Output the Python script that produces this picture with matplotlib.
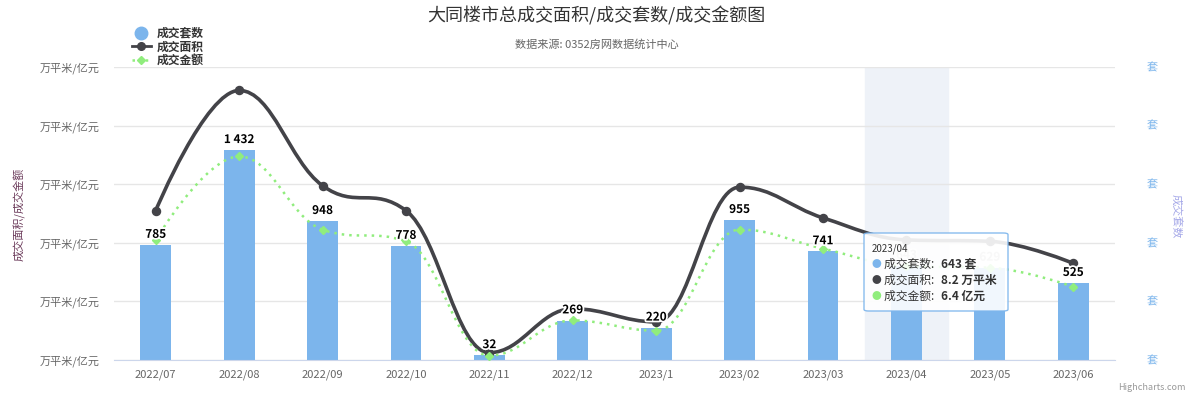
import numpy as np
import matplotlib.pyplot as plt
from matplotlib.path import Path
from matplotlib.patches import PathPatch, FancyBboxPatch
from matplotlib.lines import Line2D
import matplotlib.patheffects as pe

plt.rcParams['font.family'] = ['Noto Sans CJK SC', 'DejaVu Sans']

# 数据
months = ['2022/07', '2022/08', '2022/09', '2022/10', '2022/11', '2022/12',
          '2023/1', '2023/02', '2023/03', '2023/04', '2023/05', '2023/06']
units = [785, 1432, 948, 778, 32, 269, 220, 955, 741, 643, 629, 525]          # 成交套数
area = [10.2, 18.4, 11.9, 10.2, 0.5, 3.5, 2.6, 11.8, 9.7, 8.2, 8.1, 6.6]      # 成交面积 万平米
amount = [8.2, 13.9, 8.9, 8.1, 0.3, 2.7, 2.0, 8.9, 7.6, 6.4, 6.3, 5.0]        # 成交金额 亿元
hover = 9  # 2023/04

W, H = 1193, 394


def spline_path(xs, ys, smoothing=1.5):
    # Highcharts 风格的样条曲线
    n = len(xs)
    lc = [None] * n
    rc = [None] * n
    d = smoothing + 1
    for i in range(1, n - 1):
        px, py = xs[i], ys[i]
        lx, ly = xs[i - 1], ys[i - 1]
        nx, ny = xs[i + 1], ys[i + 1]
        lcx = (smoothing * px + lx) / d
        lcy = (smoothing * py + ly) / d
        rcx = (smoothing * px + nx) / d
        rcy = (smoothing * py + ny) / d
        if rcx != lcx:
            corr = ((rcy - lcy) * (rcx - px)) / (rcx - lcx) + py - rcy
            lcy += corr
            rcy += corr
        if lcy > ly and lcy > py:
            lcy = max(ly, py)
            rcy = 2 * py - lcy
        elif lcy < ly and lcy < py:
            lcy = min(ly, py)
            rcy = 2 * py - lcy
        if rcy > ny and rcy > py:
            rcy = max(ny, py)
            lcy = 2 * py - rcy
        elif rcy < ny and rcy < py:
            rcy = min(ny, py)
            lcy = 2 * py - rcy
        lc[i] = (lcx, lcy)
        rc[i] = (rcx, rcy)
    verts = [(xs[0], ys[0])]
    codes = [Path.MOVETO]
    for i in range(1, n):
        c1 = rc[i - 1] if rc[i - 1] else (xs[i - 1], ys[i - 1])
        c2 = lc[i] if lc[i] else (xs[i], ys[i])
        verts += [c1, c2, (xs[i], ys[i])]
        codes += [Path.CURVE4] * 3
    return Path(verts, codes)


def fx(x):
    return x / W


def fy(y):
    return 1 - y / H


fig = plt.figure(figsize=(W / 100, H / 100), dpi=100)
ax2 = fig.add_axes([fx(114), fy(360), fx(1115) - fx(114), fy(67) - fy(360)])
ax = ax2.twinx()
ax.set_zorder(ax2.get_zorder() + 1)
ax.patch.set_visible(False)

x = np.arange(len(months))

# 右轴: 套数柱
ax2.axvspan(hover - 0.5, hover + 0.5, color='#eef2f8', zorder=0)
ax2.bar(x, units, width=0.37, color='#7cb5ec', zorder=2)
ax2.set_ylim(0, 2000)
ax2.set_xlim(-0.5, len(months) - 0.5)
ax2.set_yticks(np.arange(0, 2001, 400))
ax2.yaxis.tick_right()
ax2.set_yticklabels(['套'] * 6, color='#7cb5ec', fontsize=8)
ax2.tick_params(axis='y', length=0, pad=23)
ax2.grid(axis='y', color='#e6e6e6', lw=1, zorder=1)
ax2.set_axisbelow(True)
ax2.set_xticks(x)
ax2.set_xticklabels(months, color='#666666', fontsize=8)
ax2.tick_params(axis='x', length=0, pad=7)
for s in ['top', 'left', 'right']:
    ax2.spines[s].set_visible(False)
ax2.spines['bottom'].set_color('#ccd6eb')

# 左轴: 面积/金额
ax.set_ylim(0, 20)
ax.set_yticks(np.arange(0, 21, 4))
ax.yaxis.tick_left()
ax.set_yticklabels(['万平米/亿元'] * 6, color='#666666', fontsize=8)
ax.tick_params(axis='y', length=0, pad=10)
for s in ax.spines.values():
    s.set_visible(False)

ax.add_patch(PathPatch(spline_path(x, area), fill=False, edgecolor='#434348', lw=2.6,
                       capstyle='round', zorder=3))
ax.plot(x, area, 'o', color='#434348', markersize=5.8, zorder=4)
ax.add_patch(PathPatch(spline_path(x, amount), fill=False, edgecolor='#90ed7d', lw=1.8,
                       linestyle=(0, (1, 2)), zorder=3))
ax.plot(x, amount, 'D', color='#90ed7d', markersize=4.5, zorder=4)

# 套数标签
for i, v in enumerate(units):
    lab = f'{v:,}'.replace(',', ' ')
    faded = i in (hover, hover + 1)
    ax.annotate(lab, xy=(i, v), xycoords=ax2.transData, xytext=(0, 3),
                textcoords='offset points', ha='center', va='bottom',
                fontsize=8.5, fontweight='bold', color='#bbbbbb' if faded else 'black',
                zorder=6, path_effects=[pe.withStroke(linewidth=2.5, foreground='white')])

# 标题
fig.text(0.5, fy(16), '大同楼市总成交面积/成交套数/成交金额图', ha='center', va='center',
         fontsize=13, color='#333333')
fig.text(0.5, fy(44), '数据来源: 0352房网数据统计中心', ha='center', va='center',
         fontsize=8, color='#666666')
fig.text(fx(20), fy(214), '成交面积/成交金额', rotation=90, ha='center', va='center',
         fontsize=8, color='#6b3a5a')
fig.text(fx(1176), fy(216), '成交套数', rotation=270, ha='center', va='center',
         fontsize=8, color='#a5a8e8')
fig.text(fx(1186), fy(388), 'Highcharts.com', ha='right', va='center',
         fontsize=6.5, color='#999999')

# 图例
handles = [Line2D([], [], marker='o', color='#7cb5ec', linestyle='none', markersize=9),
           Line2D([], [], marker='o', color='#434348', lw=2, markersize=5.5),
           Line2D([], [], marker='D', color='#90ed7d', lw=1.8, linestyle=':', markersize=4)]
fig.legend(handles, ['成交套数', '成交面积', '成交金额'], loc='upper left',
           bbox_to_anchor=(fx(126), fy(21)), frameon=False, handlelength=1.6,
           handletextpad=0.5, labelspacing=0.05, borderpad=0,
           prop={'size': 8.5, 'weight': 'bold'}, labelcolor='#333333')

# 提示框
box = FancyBboxPatch((fx(864), fy(311)), fx(1008) - fx(864), fy(233) - fy(311),
                     boxstyle='round,pad=0,rounding_size=0.004', transform=fig.transFigure,
                     facecolor='white', edgecolor='#7cb5ec', lw=1, alpha=0.9, zorder=10)
fig.add_artist(box)
fig.text(fx(872), fy(249), months[hover], fontsize=7, color='#333333', va='center', zorder=11)
rows = [('#7cb5ec', '成交套数: ', f'{units[hover]} 套'),
        ('#434348', '成交面积: ', f'{area[hover]} 万平米'),
        ('#90ed7d', '成交金额: ', f'{amount[hover]} 亿元')]
for k, (c, name, val) in enumerate(rows):
    yy = fy(264 + k * 16)
    fig.text(fx(872), yy, '●', color=c, fontsize=7, va='center', zorder=11)
    fig.text(fx(884), yy, name, color='#333333', fontsize=8.5, va='center', zorder=11)
    fig.text(fx(941), yy, val, color='#333333', fontsize=8.5, fontweight='bold', va='center', zorder=11)

fig.savefig('out.png', dpi=100)
